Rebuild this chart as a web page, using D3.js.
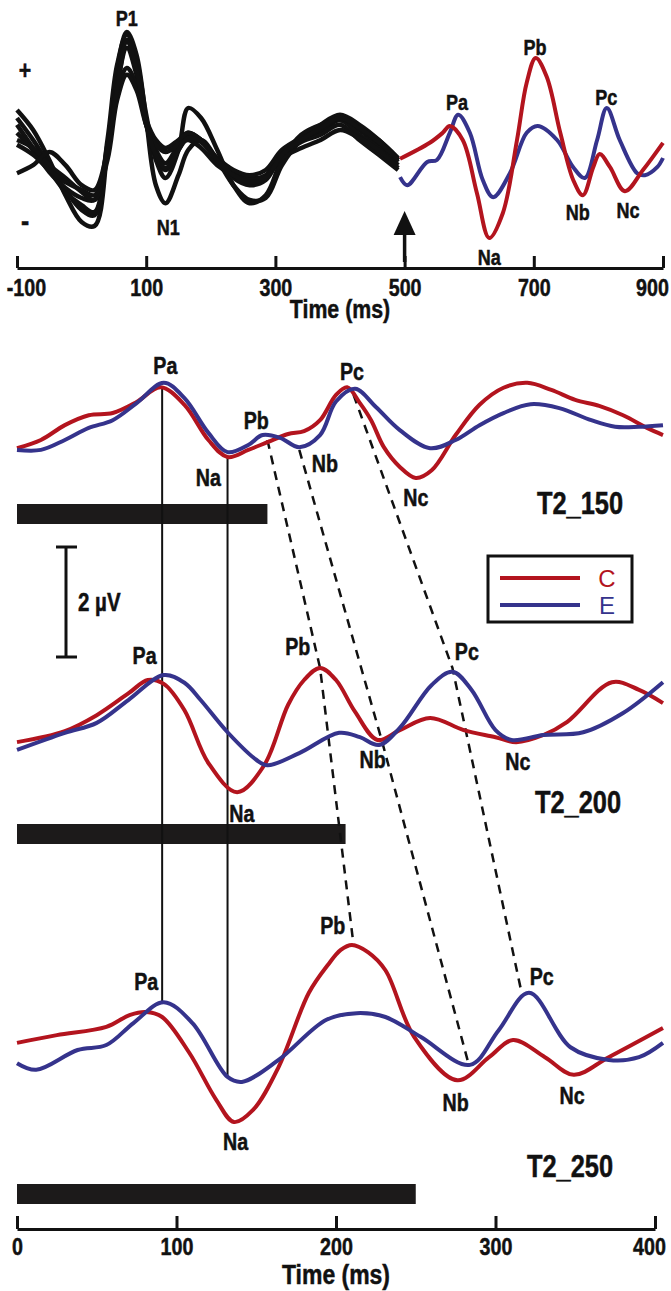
<!DOCTYPE html>
<html lang="en">
<head>
<meta charset="UTF-8">
<title>ERP waveforms</title>
<script src="https://cdn.jsdelivr.net/npm/d3@7"></script>
<style>
  body { margin: 0; background: #fff; }
  svg text { font-family: "Liberation Sans", Arial, sans-serif; font-weight: bold; fill: #111; }
  svg text.heavy { stroke: #111; stroke-width: 0.5px; }
</style>
</head>
<body>
<div id="chart"></div>
<script>
// ---------- top panel data (ms, µV) ----------
const blackT = [-100,-75,-50,-25,0,20,40,55,70,85,100,115,130,150,165,185,210,235,260,285,310,340,370,400,430,460,490];
const blackTraces = [
  [1.25,0.75,0,-0.88,-1.55,-1.65,0.25,2.25,3.2,2.63,1.0,-0.63,-1.08,-0.38,0.25,0.5,0,-0.63,-1.0,-0.95,-0.13,0.5,0.88,1.13,0.88,0.5,0],
  [1.05,0.5,-0.13,-0.75,-1.25,-1.38,0.5,2.38,3.13,2.5,1.13,0,-0.45,0.25,1.3,1.05,0.25,-0.63,-1.08,-0.88,0,0.63,0.88,1.0,0.75,0.38,-0.05],
  [0.88,0.3,-0.25,-0.8,-1.13,-1.3,0.25,2.0,3.0,2.38,1.0,0.13,-0.25,0.25,0.63,0.5,0,-0.45,-0.63,-0.5,0.13,0.5,0.7,1.0,0.63,0.3,-0.13],
  [0.68,0.25,-0.3,-0.7,-0.95,-1.0,0.38,1.88,2.8,2.13,0.88,0.25,-0.08,0.38,0.68,0.5,0,-0.3,-0.45,-0.4,0.13,0.45,0.63,0.88,0.5,0.13,-0.25],
  [0.5,0.3,-0.13,-0.45,-0.8,-1.0,0.13,1.63,2.3,1.88,1.0,0.5,0.3,0.5,0.68,0.5,0.05,-0.25,-0.38,-0.25,0.25,0.55,0.75,1.05,0.8,0.5,0.05],
  [0.38,0.13,-0.25,-0.55,-0.75,-0.88,0,1.5,2.13,1.75,0.88,0.38,0.2,0.38,0.5,0.3,-0.13,-0.38,-0.5,-0.38,0.05,0.3,0.5,0.75,0.55,0.25,-0.2],
  [-0.33,-0.13,0.2,-0.13,-0.63,-0.75,0.25,1.75,2.95,2.25,0.88,0.13,-0.2,0.25,0.55,0.45,0,-0.38,-0.55,-0.45,0.13,0.5,0.8,1.05,0.8,0.45,0]
];
const topC = [[493,0.03],[539,0.43],[559,0.68],[570,0.85],[590,0.5],[612,-0.83],[631,-1.95],[652,-1.33],[674,0.5],[689,1.93],[703,2.55],[720,2.08],[741,0.68],[761,-0.5],[776,-0.88],[792,-0.18],[802,0.15],[818,-0.18],[841,-0.78],[869,-0.25],[900,0.43]];
const topE = [[493,-0.43],[504,-0.63],[535,-0.05],[550,0],[570,0.68],[583,1.13],[601,0.68],[621,-0.5],[637,-0.93],[663,-0.33],[689,0.68],[706,0.85],[736,0.5],[761,-0.18],[779,-0.45],[798,0.5],[813,1.3],[833,0.5],[860,-0.33],[872,-0.38],[891,-0.18],[900,0.05]];
const topLabels = [["P1",70,3.55],["N1",134,-1.68],["Pa",581,1.45],["Na",631,-2.43],["Pb",702,2.83],["Nb",768,-1.3],["Pc",812,1.58],["Nc",846,-1.25]];
const topTicks = [-100,100,300,500,700,900];
const cueTime = 500;

// ---------- bottom panels (ms, µV) ----------
const c150 = [[0,-0.15],[15,0.0],[30,0.27],[45,0.45],[60,0.49],[75,0.69],[90,0.96],[105,0.64],[120,0.0],[132,-0.31],[145,-0.18],[157,-0.04],[170,0.11],[180,0.16],[190,0.36],[200,0.82],[207,0.96],[215,0.67],[222,0.36],[230,-0.13],[240,-0.49],[250,-0.69],[260,-0.55],[275,0.09],[290,0.64],[305,0.95],[320,1.04],[335,0.91],[350,0.73],[365,0.62],[380,0.45],[395,0.22],[405,0.09]];
const e150 = [[0,-0.18],[15,-0.18],[30,0.0],[45,0.22],[60,0.36],[75,0.67],[92,1.04],[105,0.76],[120,0.13],[132,-0.22],[145,-0.09],[154,0.09],[165,0.04],[177,-0.13],[190,0.09],[200,0.7],[212,0.93],[225,0.6],[240,0.18],[259,-0.15],[275,0.0],[290,0.27],[305,0.49],[322,0.65],[340,0.58],[360,0.36],[375,0.24],[390,0.24],[405,0.27]];
const c200 = [[0,-0.13],[30,0.07],[50,0.36],[70,0.76],[82,1.0],[92,0.93],[105,0.45],[120,-0.51],[138,-1.04],[155,-0.55],[170,0.55],[180,1.0],[190,1.22],[200,1.0],[212,0.42],[226,-0.09],[240,0.09],[259,0.31],[280,0.09],[300,-0.04],[313,-0.13],[330,0.0],[345,0.24],[373,0.96],[390,0.82],[405,0.58]];
const e200 = [[0,-0.27],[30,0.04],[50,0.22],[70,0.64],[92,1.09],[105,0.95],[115,0.64],[132,0.05],[150,-0.45],[157,-0.55],[177,-0.33],[202,0.04],[215,-0.04],[227,-0.18],[240,0.13],[260,0.91],[273,1.15],[285,0.82],[300,0.09],[310,-0.09],[330,0.0],[355,0.05],[380,0.4],[405,0.96]];
const c250 = [[0,0.13],[25,0.27],[56,0.42],[71,0.64],[81,0.69],[91,0.6],[108,-0.05],[125,-0.91],[136,-1.31],[148,-1.09],[164,-0.31],[183,1.04],[195,1.55],[203,1.82],[210,1.91],[220,1.78],[231,1.45],[249,0.24],[276,-0.55],[296,-0.13],[311,0.18],[331,-0.13],[349,-0.45],[371,-0.13],[405,0.4]];
const e250 = [[0,-0.24],[12,-0.36],[38,0.0],[56,0.09],[73,0.49],[92,0.87],[110,0.49],[132,-0.49],[141,-0.58],[164,-0.18],[194,0.55],[213,0.67],[231,0.6],[253,0.24],[284,-0.27],[302,0.36],[321,1.04],[347,0.05],[371,-0.18],[390,-0.13],[405,0.13]];

const panelNames = ["T2_150","T2_200","T2_250"];
const barEnds = [157, 206, 250];
const labels150 = [["Pa",93,1.36],["Na",120,-0.69],["Pb",150,0.36],["Nb",193,-0.42],["Pc",210,1.24],["Nc",250,-1.05]];
const labels200 = [["Pa",80,1.45],["Na",141,-1.42],["Pb",176,1.6],["Nb",223,-0.45],["Pc",282,1.51],["Nc",314,-0.49]];
const labels250 = [["Pa",81,1.24],["Na",137,-1.67],["Pb",198,2.27],["Nb",275,-0.96],["Pc",329,1.33],["Nc",348,-0.82]];
// latency links: [ms, µV] in panel 1, 2, 3
const paLine = [[91,0.95],[91,0.87]];   // panel 1 -> panel 3
const naLine = [[132,-0.29],[132,-0.51]];
const pbLink = [[157,0.0],[190,1.22],[211,1.91]];
const nbLink = [[177,-0.18],[229,-0.13],[283,-0.24]];
const pcLink = [[211,0.82],[273,1.22],[316,1.09]];
const bottomTicks = [0,100,200,300,400];
const scaleBarUV = 2;

const RED = "#b3141e", BLUE = "#35338c";

const svg = d3.select("#chart").append("svg").attr("width", 671).attr("height", 1291);

function label(x, y, s, size) {
  return svg.append("text").attr("class", "heavy")
    .attr("transform", `translate(${x},${y}) scale(0.82,1)`)
    .attr("text-anchor", "middle").attr("dy", "0.35em")
    .style("font-size", size + "px").text(s);
}

// axis text: keep the end labels inside the page
function styleAxis(g, shifts) {
  g.select(".domain").attr("stroke-width", 3).attr("stroke", "#111");
  g.selectAll(".tick line").attr("stroke-width", 3).attr("stroke", "#111");
  g.selectAll(".tick text").attr("class", "heavy")
    .attr("transform", (d, i) => `translate(${shifts[i] || 0},0) scale(0.82,1)`)
    .style("font-size", "24px").attr("fill", "#111");
}

// ---------- top panel ----------
const xTop = d3.scaleLinear().domain([-100, 900]).range([17, 663]);
const yTop = d3.scaleLinear().domain([0, 1]).range([160, 120]);
const lineTop = d3.line().x(d => xTop(d[0])).y(d => yTop(d[1])).curve(d3.curveCatmullRom.alpha(0.5));

blackTraces.forEach(tr => {
  svg.append("path").datum(tr.map((v, i) => [blackT[i], v]))
    .attr("d", lineTop).attr("fill", "none").attr("stroke", "#111").attr("stroke-width", 4.5);
});
svg.append("path").datum(topE).attr("d", lineTop).attr("fill", "none").attr("stroke", BLUE).attr("stroke-width", 4);
svg.append("path").datum(topC).attr("d", lineTop).attr("fill", "none").attr("stroke", RED).attr("stroke-width", 4);

const axTop = svg.append("g").attr("transform", "translate(0,268)")
  .call(d3.axisBottom(xTop).tickValues(topTicks).tickFormat(d => String(d))
    .tickSizeInner(-12).tickSizeOuter(0).tickPadding(11));
styleAxis(axTop, [9, 0, 0, 0, 0, -11]);
label(340, 309, "Time (ms)", 26);

// arrow at T2 onset
const ax = xTop(cueTime);
svg.append("line").attr("x1", ax).attr("x2", ax).attr("y1", 262).attr("y2", 228).attr("stroke", "#111").attr("stroke-width", 3.5);
svg.append("path").attr("d", `M${ax},211 L${ax - 11},235 L${ax + 11},235 Z`).attr("fill", "#111");

topLabels.forEach(d => label(xTop(d[1]), yTop(d[2]), d[0], 22));
label(25, 70, "+", 26);
label(25, 220, "-", 30);

// ---------- bottom panels ----------
const xBot = d3.scaleLinear().domain([0, 400]).range([17, 655]);
const bases = [440, 735, 1050];
const yBot = bases.map(b => d3.scaleLinear().domain([0, 1]).range([b, b - 55]));
const barTops = [504, 824, 1184];
const nameY = [503, 802, 1166];
const nameX = [580, 578, 570];

// stimulus bars
barEnds.forEach((e, i) => {
  svg.append("rect").attr("x", xBot(0)).attr("y", barTops[i]).attr("width", xBot(e) - xBot(0)).attr("height", 20).attr("fill", "#1c1a1a");
});

// vertical latency lines
[paLine, naLine].forEach(l => {
  svg.append("line").attr("x1", xBot(l[0][0])).attr("x2", xBot(l[1][0]))
    .attr("y1", yBot[0](l[0][1])).attr("y2", yBot[2](l[1][1]))
    .attr("stroke", "#111").attr("stroke-width", 2);
});
// dashed latency links
[pbLink, nbLink, pcLink].forEach(l => {
  svg.append("path").datum(l)
    .attr("d", d3.line().x(d => xBot(d[0])).y((d, i) => yBot[i](d[1])))
    .attr("fill", "none").attr("stroke", "#111").attr("stroke-width", 2.5).attr("stroke-dasharray", "9,7");
});

const series = [[c150, e150], [c200, e200], [c250, e250]];
series.forEach((pair, i) => {
  const ln = d3.line().x(d => xBot(d[0])).y(d => yBot[i](d[1])).curve(d3.curveCatmullRom.alpha(0.5));
  svg.append("path").datum(pair[0]).attr("d", ln).attr("fill", "none").attr("stroke", RED).attr("stroke-width", 4);
  svg.append("path").datum(pair[1]).attr("d", ln).attr("fill", "none").attr("stroke", BLUE).attr("stroke-width", 4);
});

[labels150, labels200, labels250].forEach((ls, i) => {
  ls.forEach(d => label(xBot(d[1]), yBot[i](d[2]), d[0], 24));
  label(nameX[i], nameY[i], panelNames[i], 31);
});

// scale bar
const sbTop = 547, sbLen = yBot[0](0) - yBot[0](scaleBarUV);
svg.append("line").attr("x1", 66).attr("x2", 66).attr("y1", sbTop).attr("y2", sbTop + sbLen).attr("stroke", "#111").attr("stroke-width", 3);
[sbTop, sbTop + sbLen].forEach(y => svg.append("line").attr("x1", 56).attr("x2", 77).attr("y1", y).attr("y2", y).attr("stroke", "#111").attr("stroke-width", 3));
svg.append("text").attr("class", "heavy").attr("transform", `translate(78,${sbTop + sbLen / 2}) scale(0.82,1)`).attr("dy", "0.35em")
  .style("font-size", "25px").text(scaleBarUV + " µV");

// legend
const lg = svg.append("g");
lg.append("rect").attr("x", 488).attr("y", 556).attr("width", 144).attr("height", 66).attr("fill", "none").attr("stroke", "#111").attr("stroke-width", 3);
[["C", RED, 578], ["E", BLUE, 605]].forEach(d => {
  lg.append("line").attr("x1", 500).attr("x2", 580).attr("y1", d[2]).attr("y2", d[2]).attr("stroke", d[1]).attr("stroke-width", 4);
  lg.append("text").attr("x", 607).attr("y", d[2]).attr("dy", "0.36em").attr("text-anchor", "middle")
    .style("font-weight", "normal").style("font-size", "24px").style("fill", d[1]).text(d[0]);
});

// bottom axis
const axBot = svg.append("g").attr("transform", "translate(0,1229)")
  .call(d3.axisBottom(xBot).tickValues(bottomTicks).tickSizeInner(-13).tickSizeOuter(0).tickPadding(9));
styleAxis(axBot, [0, 0, 0, 0, -6]);
label(336, 1274, "Time (ms)", 28);
</script>
</body>
</html>
